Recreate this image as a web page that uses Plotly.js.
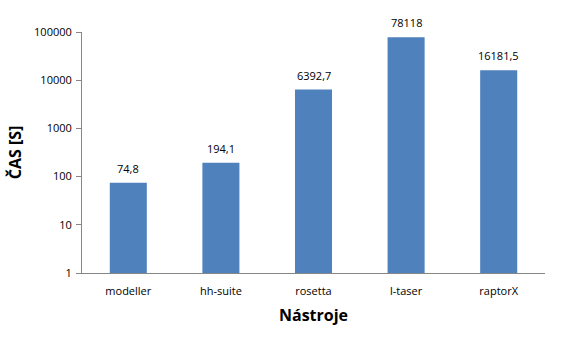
<!DOCTYPE html>
<html>
<head>
<meta charset="utf-8">
<script src="https://cdn.plot.ly/plotly-3.0.1.min.js"></script>
<style>html,body{margin:0;padding:0;background:#fff;}#chart{width:563px;height:355px;}</style>
</head>
<body>
<div id="chart"></div>
<script>
var categories = ["modeller", "hh-suite", "rosetta", "l-taser", "raptorX"];
var values = [74.8, 194.1, 6392.7, 78118, 16181.5];
var tickVals = [1, 10, 100, 1000, 10000, 100000];
var tickText = ["1", "10", "100", "1000", "10000", "100000"];
var labels = values.map(function (v) { return String(v).replace('.', ','); });

var FONT = 'Open Sans, Liberation Sans, sans-serif';

var trace = {
  type: 'bar',
  x: categories,
  y: values,
  marker: {color: '#4F81BD'},
  width: 0.4,
  hoverinfo: 'none'
};

var annotations = categories.map(function (c, i) {
  return {
    x: c, y: Math.log10(values[i]), xref: 'x', yref: 'y',
    text: labels[i], showarrow: false,
    xanchor: 'center', yanchor: 'bottom', yshift: 5,
    font: {family: FONT, size: 11, color: '#000'}
  };
});

var layout = {
  width: 563, height: 355,
  margin: {l: 82, r: 18, t: 32, b: 82},
  paper_bgcolor: '#fff', plot_bgcolor: '#fff',
  showlegend: false,
  font: {family: FONT, size: 11, color: '#000'},
  annotations: annotations,
  xaxis: {
    type: 'category',
    showline: true, linecolor: '#868686', linewidth: 1,
    ticks: '', showgrid: false, zeroline: false,
    ticklabelstandoff: 8,
    tickfont: {size: 11, color: '#000'},
    title: {text: 'Nástroje', font: {size: 16, color: '#000', family: FONT, weight: 'bold'}, standoff: 12}
  },
  yaxis: {
    type: 'log',
    range: [0, 5],
    tickvals: tickVals, ticktext: tickText,
    showline: true, linecolor: '#868686', linewidth: 1,
    ticks: 'outside', ticklen: 5, tickcolor: '#868686',
    ticklabelstandoff: 2,
    showgrid: false, zeroline: false,
    tickfont: {size: 11, color: '#000'},
    title: {text: 'ČAS [S]', font: {size: 16, color: '#000', family: FONT, weight: 'bold'}, standoff: 8}
  }
};

Plotly.newPlot('chart', [trace], layout, {displayModeBar: false, staticPlot: true});
</script>
</body>
</html>
